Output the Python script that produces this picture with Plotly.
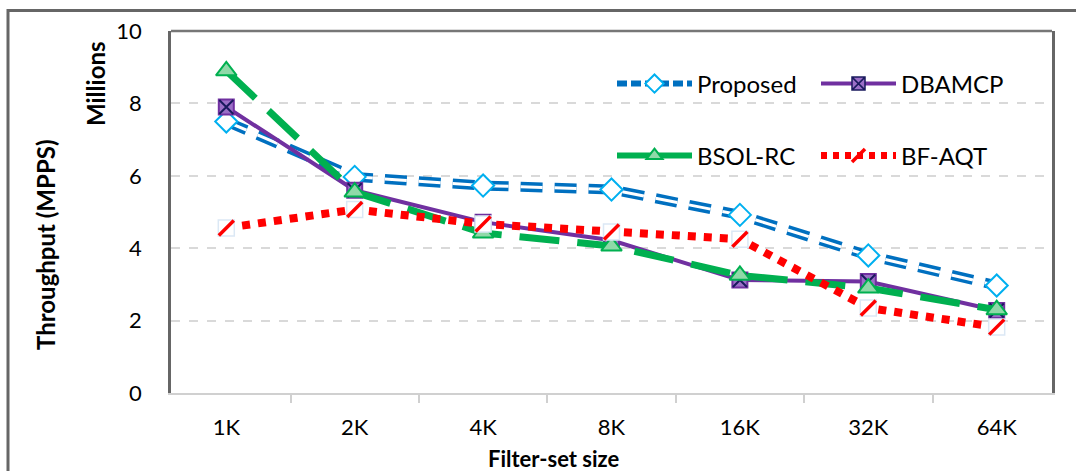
import plotly.graph_objects as go

categories = ["1K", "2K", "4K", "8K", "16K", "32K", "64K"]
proposed = [7.5, 5.97, 5.73, 5.62, 4.92, 3.8, 2.97]
dbamcp = [7.9, 5.6, 4.72, 4.22, 3.12, 3.08, 2.28]
bsol_rc = [8.9, 5.55, 4.42, 4.06, 3.25, 2.9, 2.3]
bf_aqt = [4.56, 5.07, 4.67, 4.45, 4.25, 2.35, 1.82]
y_ticks = [0, 2, 4, 6, 8, 10]

FONT = "Lato"
W, H = 1076, 471
L, R, T, B = 171, 24, 31, 78
PW, PH = W - L - R, H - T - B


def px(x):
    return (x - L) / PW


def py(y):
    return (H - B - y) / PH


BLUE, LBLUE = "#0070C0", "#00B0F0"
PURPLE, NAVY = "#7030A0", "#1a1a5e"
GREEN, RED = "#00B050", "#FF0000"

PROP_DASH = "22px,12px"
GREEN_DASH = "40px,18px"
RED_DASH = "8px,8px"

fig = go.Figure()

# Proposed: hollow blue dashed line
fig.add_trace(go.Scatter(
    x=categories, y=proposed, mode="lines", showlegend=False, hoverinfo="skip",
    line=dict(color=BLUE, width=10, dash=PROP_DASH),
))
fig.add_trace(go.Scatter(
    x=categories, y=proposed, mode="lines", showlegend=False, hoverinfo="skip",
    line=dict(color="white", width=3, dash=PROP_DASH),
))
fig.add_trace(go.Scatter(
    x=categories, y=proposed, mode="markers", showlegend=False, name="Proposed",
    marker=dict(symbol="diamond", size=17, color="white", line=dict(color=LBLUE, width=2)),
))

# DBAMCP
fig.add_trace(go.Scatter(
    x=categories, y=dbamcp, mode="lines+markers", showlegend=False, name="DBAMCP",
    line=dict(color=PURPLE, width=4),
    marker=dict(symbol="square", size=15, color="#9b6fc7", line=dict(color=PURPLE, width=2)),
))
fig.add_trace(go.Scatter(
    x=categories, y=dbamcp, mode="markers", showlegend=False, hoverinfo="skip",
    marker=dict(symbol="x-thin-open", size=14, color=NAVY, line=dict(color=NAVY, width=2)),
))

# BSOL-RC
fig.add_trace(go.Scatter(
    x=categories, y=bsol_rc, mode="lines+markers", showlegend=False, name="BSOL-RC",
    line=dict(color=GREEN, width=7, dash=GREEN_DASH),
    marker=dict(symbol="triangle-up", size=18, color="#8fd9a8", line=dict(color=GREEN, width=2)),
))

# BF-AQT
fig.add_trace(go.Scatter(
    x=categories, y=bf_aqt, mode="lines+markers", showlegend=False, name="BF-AQT",
    line=dict(color=RED, width=8, dash=RED_DASH),
    marker=dict(symbol="square", size=16, color="white", line=dict(color="#dbe8f5", width=1.5)),
))
fig.add_trace(go.Scatter(
    x=categories, y=bf_aqt, mode="markers", showlegend=False, hoverinfo="skip",
    marker=dict(symbol="line-ne", size=15, color=RED, line=dict(color=RED, width=3.5)),
))

# Legend entries (legend-only traces)
fig.add_trace(go.Scatter(
    x=[None], y=[None], mode="lines+markers", name="Proposed", legend="legend",
    line=dict(color=BLUE, width=6, dash="10px,4px"),
    marker=dict(symbol="diamond", size=14, color="white", line=dict(color=LBLUE, width=2)),
))
fig.add_trace(go.Scatter(
    x=[None], y=[None], mode="lines+markers", name="DBAMCP", legend="legend",
    line=dict(color=PURPLE, width=4),
    marker=dict(symbol="square-x", size=13, color="#9b6fc7", line=dict(color=NAVY, width=1.5)),
))
fig.add_trace(go.Scatter(
    x=[None], y=[None], mode="lines+markers", name="BSOL-RC", legend="legend2",
    line=dict(color=GREEN, width=6),
    marker=dict(symbol="triangle-up", size=14, color="#8fd9a8", line=dict(color=GREEN, width=2)),
))
fig.add_trace(go.Scatter(
    x=[None], y=[None], mode="lines+markers", name="BF-AQT", legend="legend2",
    line=dict(color=RED, width=7, dash="6px,6px"),
    marker=dict(symbol="line-ne", size=13, color=RED, line=dict(color=RED, width=3.5)),
))

legend_common = dict(orientation="h", x=px(612), xanchor="left", yanchor="middle",
                     font=dict(size=24, family=FONT), bgcolor="rgba(0,0,0,0)",
                     entrywidth=114, itemwidth=75, traceorder="normal")

fig.update_layout(
    width=W, height=H,
    margin=dict(l=L, r=R, t=T, b=B, autoexpand=False),
    paper_bgcolor="white", plot_bgcolor="white",
    font=dict(family=FONT, color="black"),
    showlegend=True,
    legend=dict(y=py(84), **legend_common),
    legend2=dict(y=py(156), **legend_common),
    xaxis=dict(
        type="category", categoryorder="array", categoryarray=categories,
        showgrid=False, zeroline=False,
        showline=True, linecolor="#D0D0D0", linewidth=2,
        ticks="outside", tickson="boundaries", ticklen=8, tickcolor="#D0D0D0", tickwidth=1.5,
        tickfont=dict(size=22, family=FONT), ticklabelstandoff=14,
    ),
    yaxis=dict(
        range=[0, 10], tickvals=y_ticks, ticktext=[str(v) for v in y_ticks],
        showgrid=True, gridcolor="#D9D9D9", gridwidth=1.5, griddash="dash",
        zeroline=False, showline=True, linecolor="#666666", linewidth=2.5, mirror=True,
        ticks="", tickfont=dict(size=22, family=FONT), ticklabelstandoff=22,
    ),
    shapes=[
        dict(type="line", xref="paper", yref="paper", x0=0, x1=1, y0=1, y1=1,
             line=dict(color="#777777", width=2.5)),
        dict(type="rect", xref="paper", yref="paper", x0=px(8), x1=px(1100), y0=py(600), y1=py(10.5),
             line=dict(color="#666666", width=3), fillcolor="rgba(0,0,0,0)"),
    ],
    annotations=[
        dict(text="<b>Throughput (MPPS)</b>", xref="paper", yref="paper", x=px(46), y=py(245),
             textangle=-90, showarrow=False, font=dict(size=24, family=FONT),
             xanchor="center", yanchor="middle"),
        dict(text="<b>Millions</b>", xref="paper", yref="paper", x=px(95), y=py(84),
             textangle=-90, showarrow=False, font=dict(size=24, family=FONT),
             xanchor="center", yanchor="middle"),
        dict(text="<b>Filter-set size</b>", xref="paper", yref="paper", x=px(554), y=py(458),
             showarrow=False, font=dict(size=22, family=FONT),
             xanchor="center", yanchor="middle"),
    ],
)

fig.write_html(
    "out.html",
    config={"displayModeBar": False},
    post_script="document.body.style.margin='0';document.body.style.overflow='hidden';",
)
